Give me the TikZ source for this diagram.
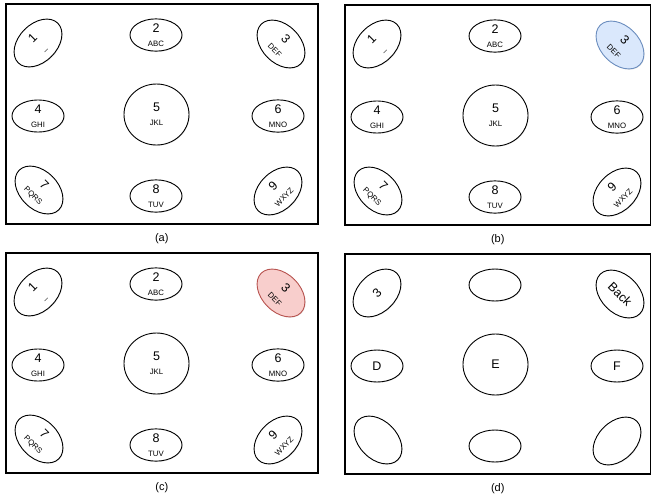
\documentclass[tikz,border=0pt]{standalone}
\usepackage{fontspec}
\setmainfont{Liberation Sans}
\usetikzlibrary{shapes.geometric,shadows,positioning}

\definecolor{selblue}{HTML}{DAE8FC}
\definecolor{selbluedraw}{HTML}{6C8EBF}
\definecolor{selred}{HTML}{F8CECC}
\definecolor{selreddraw}{HTML}{B85450}

\tikzset{
  panel/.style={draw, fill=white, line width=1.5pt, inner sep=0pt, anchor=north west,
    minimum height=220pt, drop shadow={shadow xshift=1pt, shadow yshift=-1pt, opacity=0.3}},
  key/.style={ellipse, draw, line width=0.9pt, fill=white, inner sep=0pt,
    minimum width=52pt, minimum height=32pt, align=center,
    font=\fontsize{12.5}{14}\selectfont,
    drop shadow={shadow xshift=0.7pt, shadow yshift=-0.7pt, opacity=0.2}},
  cornerkey/.style={key, minimum width=56pt, minimum height=38pt},
  bigkey/.style={key, minimum width=65pt, minimum height=61pt},
  caption/.style={font=\fontsize{11}{13}\selectfont, inner sep=0pt},
}
\newcommand{\klet}[1]{{\fontsize{7.8}{9}\selectfont #1}}

% #1 prefix, #2 origin, #3 frame width, #4 style of key 3, #5 caption
\newcommand{\numpad}[5]{%
  \begin{scope}[shift={#2}]
    \node[panel, minimum width=#3] (#1-frame) at (0,0) {};
    \node[cornerkey, rotate=45] (#1-1) at (33,40) {1\\\klet{\_}};
    \node[key] (#1-2) at (151,32) {2\\\klet{ABC}};
    \node[cornerkey, rotate=-45, #4] (#1-3) at (276,41) {3\\\klet{DEF}};
    \node[key] (#1-4) at (33,113) {4\\\klet{GHI}};
    \node[bigkey] (#1-5) at (151.5,111.5) {5\\\klet{JKL}};
    \node[key] (#1-6) at (273,113) {6\\\klet{MNO}};
    \node[cornerkey, rotate=-45] (#1-7) at (34,187) {7\\\klet{PQRS}};
    \node[key] (#1-8) at (151,193) {8\\\klet{TUV}};
    \node[cornerkey, rotate=45] (#1-9) at (273,188) {9\\\klet{WXYZ}};
    \node[caption, below=9pt of #1-frame] (#1-cap) {#5};
  \end{scope}}

\begin{document}
\begin{tikzpicture}[x=1pt, y=-1pt]
  \useasboundingbox (0,0) rectangle (651,496);

  \numpad{a}{(5,3)}{312pt}{}{(a)}
  \numpad{b}{(344,4)}{306pt}{fill=selblue, draw=selbluedraw}{(b)}
  \numpad{c}{(5,252)}{312pt}{fill=selred, draw=selreddraw}{(c)}

  % panel (d): letters of key 3
  \begin{scope}[shift={(344,253)}]
    \node[panel, minimum width=306pt] (d-frame) at (0,0) {};
    \node[cornerkey, rotate=45] (d-1) at (33,40) {3};
    \node[key] (d-2) at (151,32) {};
    \node[cornerkey, rotate=-45] (d-3) at (276,41) {Back};
    \node[key] (d-4) at (33,113) {D};
    \node[bigkey] (d-5) at (151.5,111.5) {E};
    \node[key] (d-6) at (273,113) {F};
    \node[cornerkey, rotate=-45] (d-7) at (34,187) {};
    \node[key] (d-8) at (151,193) {};
    \node[cornerkey, rotate=45] (d-9) at (273,188) {};
    \node[caption, below=9pt of d-frame] (d-cap) {(d)};
  \end{scope}
\end{tikzpicture}
\end{document}
